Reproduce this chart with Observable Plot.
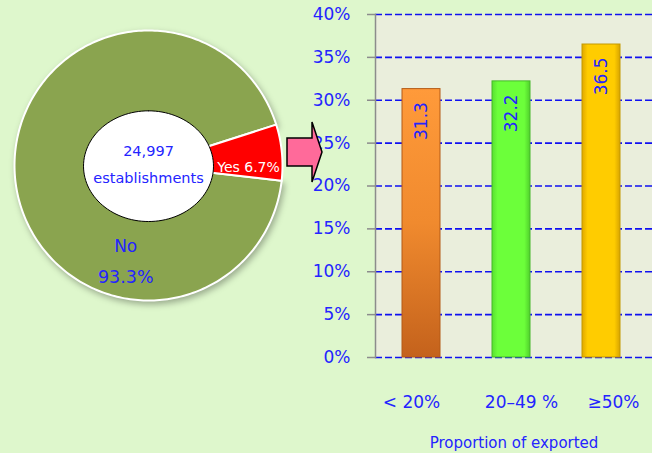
<!DOCTYPE html>
<html><head><meta charset="utf-8">
<script src="https://cdn.jsdelivr.net/npm/d3@7"></script>
<script src="https://cdn.jsdelivr.net/npm/@observablehq/plot@0.6"></script>
<style>
html,body{margin:0;padding:0;background:#DEF7CC;}
#wrap{position:relative;width:652px;height:453px;background:#DEF7CC;overflow:hidden;font-family:"DejaVu Sans",sans-serif;}
#wrap svg{position:absolute;left:0;top:0;}
</style></head><body><div id="wrap"></div>
<script>
// ---- data ----
const sliceLabels = ["No", "Yes"];
const sliceValues = [93.3, 6.7];
const sliceColors = ["#8AA44F", "#FF0000"];
const totalLabel = "24,997";
const totalUnit = "establishments";
const barCategories = ["< 20%", "20–49 %", "≥50%"];
const barValues = [31.3, 32.2, 36.5];
const barGradients = ["url(#gOrange)", "url(#gGreen)", "url(#gYellow)"];
const barStrokes = ["#B45A16", "#46B82A", "#C49A00"];
const yTicks = [0, 5, 10, 15, 20, 25, 30, 35, 40];
const xTitle = "Proportion of exported";

const BLUE = "#2424FF";
const wrap = document.getElementById("wrap");

// ---- bar chart ----
const bars = barCategories.map((c, i) => ({cat: c, value: barValues[i], fill: barGradients[i], stroke: barStrokes[i]}));
const labelShift = [-10, 10, 12];
const barPlot = Plot.plot({
  width: 652, height: 453,
  marginLeft: 375, marginRight: 0, marginTop: 14, marginBottom: 96,
  style: {background: "transparent", fontFamily: "DejaVu Sans, sans-serif", overflow: "visible"},
  x: {domain: barCategories, range: [375, 647], paddingInner: 0.58, paddingOuter: 0.29, axis: null},
  y: {domain: [0, 40], axis: null},
  color: {type: "identity"},
  marks: [
    Plot.frame({fill: "#EAEEDC", stroke: "none"}),
    Plot.ruleY(yTicks, {y: d => d, stroke: "#1010F0", strokeWidth: 1.6, strokeDasharray: "7,3"}),
    Plot.frame({anchor: "left", stroke: "#8C8C8C", strokeWidth: 1.5}),
    Plot.axisY(yTicks, {tickSize: 8, color: "#8C8C8C", tickFormat: () => "", strokeWidth: 1.5, label: null}),
    Plot.axisY(yTicks, {tickSize: 0, tickPadding: 25, color: BLUE, fontSize: 17, tickFormat: d => d + "%", label: null}),
    Plot.barY(bars, {x: "cat", y: "value", fill: "fill", stroke: "stroke", strokeWidth: 1}),
    Plot.text(bars, {x: "cat", y: "value", text: d => d.value.toFixed(1), rotate: -90, textAnchor: "end", dy: 13, fill: BLUE, fontSize: 17}),
    ...barCategories.map((c, i) => Plot.text([c], {x: d => d, frameAnchor: "bottom", dy: 50, dx: labelShift[i], fill: BLUE, fontSize: 17})),
    Plot.text([xTitle], {frameAnchor: "bottom", dy: 90, fill: BLUE, fontSize: 15})
  ]
});
const defs = d3.select(barPlot).insert("defs", ":first-child");
function grad(id, stops) {
  const g = defs.append("linearGradient").attr("id", id).attr("x1", 0).attr("x2", 1).attr("y1", 0).attr("y2", 0);
  stops.forEach(([o, c]) => g.append("stop").attr("offset", o).attr("stop-color", c));
}
function vgrad(id, stops) {
  const g = defs.append("linearGradient").attr("id", id).attr("x1", 0).attr("x2", 0).attr("y1", 0).attr("y2", 1);
  stops.forEach(([o, c]) => g.append("stop").attr("offset", o).attr("stop-color", c));
}
vgrad("gOrange", [[0, "#FF9A3A"], [0.5, "#F08A2E"], [1, "#C4621C"]]);
grad("gGreen", [[0, "#58E030"], [0.15, "#6CFF3A"], [0.85, "#6CFF3A"], [1, "#50D02C"]]);
grad("gYellow", [[0, "#E0A800"], [0.15, "#FFCC00"], [0.85, "#FFCC00"], [1, "#D8A400"]]);
wrap.appendChild(barPlot);

// ---- pie ----
const pie = d3.pie().sort(null).startAngle(96.5 * Math.PI / 180).endAngle((96.5 + 360) * Math.PI / 180)(sliceValues);
function wedge(a) {
  const pts = [{x: 0, y: 0}];
  const n = Math.max(4, Math.ceil((a.endAngle - a.startAngle) / 0.02));
  for (let k = 0; k <= n; k++) {
    const t = a.startAngle + (a.endAngle - a.startAngle) * k / n;
    pts.push({x: Math.sin(t), y: Math.cos(t)});
  }
  pts.push({x: 0, y: 0});
  return pts;
}
const hole = [];
for (let k = 0; k <= 120; k++) {
  const t = 2 * Math.PI * k / 120;
  hole.push({x: 0.485 * Math.sin(t), y: 0.41 * Math.cos(t) - 0.005});
}
const yes = pie[1];
const yesMid = (yes.startAngle + yes.endAngle) / 2;
const piePlot = Plot.plot({
  width: 330, height: 320, margin: 0,
  style: {background: "transparent", fontFamily: "DejaVu Sans, sans-serif", overflow: "visible"},
  x: {domain: [-1, 1], range: [14, 282], axis: null},
  y: {domain: [-1, 1], range: [300, 30], axis: null},
  marks: [
    ...pie.map((a, i) => Plot.line(wedge(a), {x: "x", y: "y", fill: sliceColors[i], stroke: "white", strokeWidth: 2, curve: "linear"})),
    Plot.line(hole, {x: "x", y: "y", fill: "white", stroke: "black", strokeWidth: 1}),
    Plot.text([totalLabel], {x: 0, y: 0.104, fill: BLUE, fontSize: 14.5}),
    Plot.text([totalUnit], {x: 0, y: -0.096, fill: BLUE, fontSize: 14.5}),
    Plot.text([`${sliceLabels[1]} ${sliceValues[1]}%`], {x: 0.75 * Math.sin(yesMid), y: 0.75 * Math.cos(yesMid), dy: 12, fill: "white", fontSize: 14}),
    Plot.text([sliceLabels[0]], {x: -0.17, y: -0.6, fill: BLUE, fontSize: 17}),
    Plot.text([`${sliceValues[0]}%`], {x: -0.17, y: -0.83, fill: BLUE, fontSize: 17.5})
  ]
});
d3.select(piePlot).select('g[aria-label="line"]').style("filter", "drop-shadow(2px 3px 3px rgba(0,0,0,0.3))");
wrap.appendChild(piePlot);

// ---- decorative arrow ----
const arrow = d3.select(wrap).append("svg").attr("width", 652).attr("height", 453);
arrow.append("polygon")
  .attr("points", "287,138 312,138 312,122 322,152 312,182 312,166 287,166")
  .attr("fill", "#FF6A9A").attr("stroke", "black").attr("stroke-width", 1.5);
</script></body></html>
